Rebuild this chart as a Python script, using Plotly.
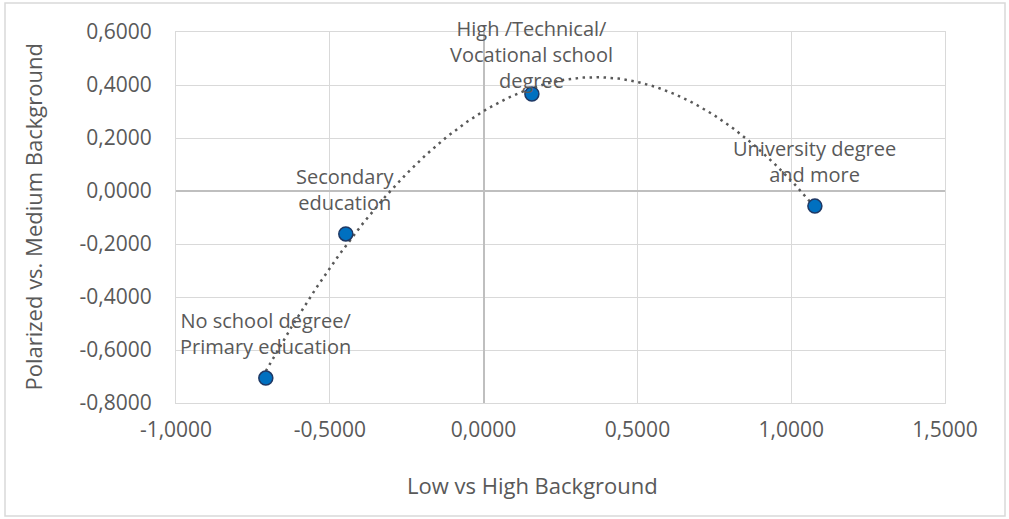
import numpy as np
import plotly.graph_objects as go

# Education groups positioned on the two background dimensions
categories = [
    "No school degree/<br>Primary education",
    "Secondary<br>education",
    "High /Technical/<br>Vocational school<br>degree",
    "University degree<br>and more",
]
low_high = [-0.708, -0.448, 0.157, 1.077]
polarized_medium = [-0.706, -0.162, 0.366, -0.057]

x_ticks = [-1.0, -0.5, 0.0, 0.5, 1.0, 1.5]
y_ticks = [-0.8, -0.6, -0.4, -0.2, 0.0, 0.2, 0.4, 0.6]

x_title = "Low vs High Background"
y_title = "Polarized vs. Medium Background"

# vertical pixel offset of each label above its marker
label_shift = [16, 16, -2, 16]

FONT = "Open Sans"
TEXT = "#595959"
GRID = "#d9d9d9"


def fmt(v):
    return f"{v:.4f}".replace(".", ",")


xa = np.array(low_high)
ya = np.array(polarized_medium)

# second-order polynomial trendline fitted to the points
coef = np.polyfit(xa, ya, 2)
xt = np.linspace(xa.min(), xa.max(), 300)
yt = np.polyval(coef, xt)

fig = go.Figure()
fig.add_trace(go.Scatter(
    x=xt, y=yt, mode="lines",
    line=dict(color="#595959", width=2.5, dash="2.5px,4.5px"),
    hoverinfo="skip", showlegend=False,
))
fig.add_trace(go.Scatter(
    x=low_high, y=polarized_medium, mode="markers",
    marker=dict(size=14, color="#0070C0", line=dict(color="#1F3864", width=1.5)),
    showlegend=False,
))

for cat, xv, yv, dy in zip(categories, low_high, polarized_medium, label_shift):
    fig.add_annotation(
        x=xv, y=yv, text=cat, showarrow=False,
        xanchor="center", yanchor="bottom", yshift=dy,
        font=dict(family=FONT, size=20, color=TEXT),
    )

axis_common = dict(
    showgrid=True, gridcolor=GRID, gridwidth=1,
    zeroline=True, zerolinecolor="#bfbfbf", zerolinewidth=1.5,
    showline=True, linecolor=GRID, linewidth=1, mirror=True,
    ticks="", tickfont=dict(family=FONT, size=21, color=TEXT),
)

fig.update_xaxes(
    range=[x_ticks[0], x_ticks[-1]], tickvals=x_ticks,
    ticktext=[fmt(v) for v in x_ticks], ticklabelstandoff=8,
    **axis_common,
)
fig.update_yaxes(
    range=[y_ticks[0], y_ticks[-1]], tickvals=y_ticks,
    ticktext=[fmt(v) for v in y_ticks], ticklabelstandoff=19,
    **axis_common,
)

# axis titles
fig.add_annotation(
    x=(532 - 176) / 769, y=(403 - 485) / 371, xref="paper", yref="paper",
    text=x_title, showarrow=False, xanchor="center", yanchor="middle",
    font=dict(family=FONT, size=22, color=TEXT),
)
fig.add_annotation(
    x=(32 - 176) / 769, y=0.5, xref="paper", yref="paper",
    text=y_title, showarrow=False, textangle=-90, xanchor="center", yanchor="middle",
    font=dict(family=FONT, size=22, color=TEXT),
)

# chart area border
fig.add_shape(
    type="rect", xref="paper", yref="paper",
    x0=(5 - 176) / 769, x1=(1005 - 176) / 769,
    y0=(403 - 516) / 371, y1=(403 - 3) / 371,
    line=dict(color=GRID, width=1.5), fillcolor="rgba(0,0,0,0)", layer="below",
)

fig.update_layout(
    width=1009, height=519,
    margin=dict(l=176, r=64, t=32, b=116),
    paper_bgcolor="white", plot_bgcolor="white",
    font=dict(family=FONT, color=TEXT),
    showlegend=False,
)

fig.write_html("out.html")
